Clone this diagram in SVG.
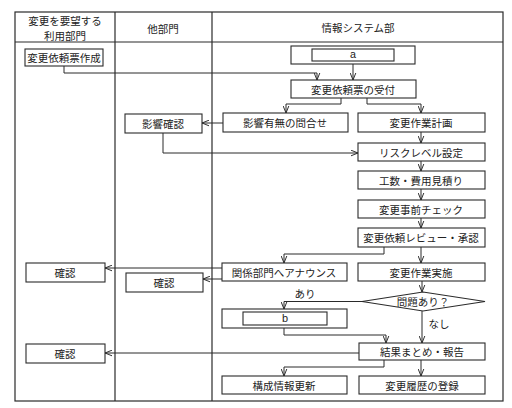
<svg xmlns="http://www.w3.org/2000/svg" width="512" height="408" viewBox="0 0 512 408">
<style>
.box{fill:#fff;stroke:#2a2a2a;stroke-width:1.1}
.lane{fill:none;stroke:#2a2a2a;stroke-width:1.2}
.t{font-family:"Noto Sans CJK JP","Noto Sans CJK SC",sans-serif;font-size:10.5px;fill:#222;text-anchor:middle;dominant-baseline:central}
.m{font-family:"Liberation Mono",monospace;font-size:11px;fill:#222;text-anchor:middle;dominant-baseline:central}
.c{fill:none;stroke:#2a2a2a;stroke-width:1}
</style>
<defs>
<marker id="arr" viewBox="0 0 10 10" refX="10" refY="5" markerWidth="7" markerHeight="7" orient="auto" markerUnits="userSpaceOnUse">
<path d="M0,1 L10,5 L0,9" fill="none" stroke="#2a2a2a" stroke-width="1.4"/>
</marker>
</defs>
<rect width="512" height="408" fill="#fff"/>
<g id="lanes">
<rect class="lane" x="15" y="12" width="488" height="389"/>
<line class="lane" x1="15" y1="42" x2="503" y2="42"/>
<line class="lane" x1="115" y1="12" x2="115" y2="401"/>
<line class="lane" x1="212" y1="12" x2="212" y2="401"/>
<text class="t" x="65" y="20">変更を要望する</text>
<text class="t" x="65" y="35">利用部門</text>
<text class="t" x="163" y="28">他部門</text>
<text class="t" x="358" y="27">情報システム部</text>
</g>
<g id="connectors">
<polyline class="c" points="64,66 64,73 317,73 317,80" marker-end="url(#arr)"/>
<line class="c" x1="353" y1="64" x2="353" y2="80" marker-end="url(#arr)"/>
<polyline class="c" points="341,98 341,104 286,104 286,113" marker-end="url(#arr)"/>
<polyline class="c" points="367,98 367,104 421,104 421,113" marker-end="url(#arr)"/>
<line class="c" x1="223" y1="123" x2="202" y2="123" marker-end="url(#arr)"/>
<polyline class="c" points="163,133 163,153 358,153" marker-end="url(#arr)"/>
<line class="c" x1="421" y1="132" x2="421" y2="143" marker-end="url(#arr)"/>
<line class="c" x1="421" y1="161" x2="421" y2="171" marker-end="url(#arr)"/>
<line class="c" x1="421" y1="189" x2="421" y2="200" marker-end="url(#arr)"/>
<line class="c" x1="421" y1="218" x2="421" y2="228" marker-end="url(#arr)"/>
<polyline class="c" points="384,247 384,254 284,254 284,263" marker-end="url(#arr)"/>
<line class="c" x1="421" y1="247" x2="421" y2="263" marker-end="url(#arr)"/>
<line class="c" x1="222" y1="268" x2="105" y2="268" marker-end="url(#arr)"/>
<line class="c" x1="222" y1="279" x2="203" y2="279" marker-end="url(#arr)"/>
<line class="c" x1="422" y1="281" x2="422" y2="292" marker-end="url(#arr)"/>
<polyline class="c" points="362,301.5 284,301.5 284,309" marker-end="url(#arr)"/>
<line class="c" x1="422" y1="311" x2="422" y2="343" marker-end="url(#arr)"/>
<polyline class="c" points="284,328 284,335 386,335 386,343" marker-end="url(#arr)"/>
<line class="c" x1="359" y1="353" x2="105" y2="353" marker-end="url(#arr)"/>
<polyline class="c" points="384,360 384,367 284,367 284,376" marker-end="url(#arr)"/>
<line class="c" x1="421" y1="360" x2="421" y2="376" marker-end="url(#arr)"/>
<text class="t" x="305" y="293">あり</text>
<text class="t" x="439" y="323">なし</text>
</g>
<g id="n_create"><rect class="box" x="25" y="49" width="78" height="17"/><text class="t" x="64" y="57.5">変更依頼票作成</text></g>
<g id="n_a"><rect class="box" x="291" y="46" width="124" height="18"/><rect class="box" x="312" y="49" width="82" height="12"/><text class="m" x="353" y="55">a</text></g>
<g id="n_receive"><rect class="box" x="291" y="80" width="125" height="18"/><text class="t" x="353" y="89">変更依頼票の受付</text></g>
<g id="n_inquiry"><rect class="box" x="223" y="113" width="125" height="19"/><text class="t" x="285" y="122.5">影響有無の問合せ</text></g>
<g id="n_plan"><rect class="box" x="358" y="113" width="127" height="19"/><text class="t" x="421" y="122.5">変更作業計画</text></g>
<g id="n_impact"><rect class="box" x="125" y="114" width="77" height="19"/><text class="t" x="163" y="123.5">影響確認</text></g>
<g id="n_risk"><rect class="box" x="358" y="143" width="127" height="18"/><text class="t" x="421" y="152">リスクレベル設定</text></g>
<g id="n_estimate"><rect class="box" x="358" y="171" width="127" height="18"/><text class="t" x="421" y="180">工数・費用見積り</text></g>
<g id="n_precheck"><rect class="box" x="358" y="200" width="127" height="18"/><text class="t" x="421" y="209">変更事前チェック</text></g>
<g id="n_review"><rect class="box" x="358" y="228" width="127" height="19"/><text class="t" x="421" y="237.5">変更依頼レビュー・承認</text></g>
<g id="n_announce"><rect class="box" x="222" y="263" width="125" height="18"/><text class="t" x="284" y="272">関係部門へアナウンス</text></g>
<g id="n_execute"><rect class="box" x="358" y="263" width="127" height="18"/><text class="t" x="421" y="272">変更作業実施</text></g>
<g id="n_confirm1"><rect class="box" x="26" y="263" width="79" height="19"/><text class="t" x="65" y="272.5">確認</text></g>
<g id="n_confirm2"><rect class="box" x="126" y="273" width="77" height="19"/><text class="t" x="164" y="282.5">確認</text></g>
<g id="n_problem"><polygon class="box" points="362,301.5 423,292 485,301.5 423,311"/><text class="t" x="423" y="301.5">問題あり？</text></g>
<g id="n_b"><rect class="box" x="222" y="309" width="125" height="19"/><rect class="box" x="243" y="312" width="84" height="13"/><text class="m" x="285" y="318.5">b</text></g>
<g id="n_report"><rect class="box" x="359" y="343" width="126" height="17"/><text class="t" x="422" y="351.5">結果まとめ・報告</text></g>
<g id="n_confirm3"><rect class="box" x="26" y="344" width="79" height="19"/><text class="t" x="65" y="353.5">確認</text></g>
<g id="n_config"><rect class="box" x="222" y="376" width="125" height="18"/><text class="t" x="284" y="385">構成情報更新</text></g>
<g id="n_history"><rect class="box" x="359" y="376" width="126" height="18"/><text class="t" x="422" y="385">変更履歴の登録</text></g>
</svg>
